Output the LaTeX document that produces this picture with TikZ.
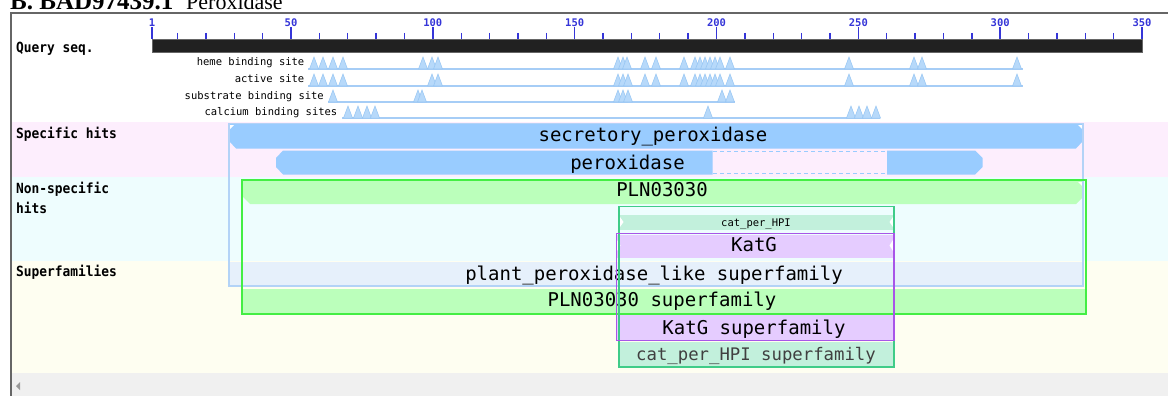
\documentclass[tikz,border=0pt]{standalone}
\usepackage{fontspec}
\newfontfamily\monofont{DejaVu Sans Mono}
\newfontfamily\labfont[FakeStretch=0.92]{DejaVu Sans Mono}
\newfontfamily\titlefont{Liberation Serif}
\definecolor{pinkband}{HTML}{FDEEFD}
\definecolor{cyanband}{HTML}{EEFDFE}
\definecolor{yelband}{HTML}{FEFEF1}
\definecolor{grayband}{HTML}{F0F0F0}
\definecolor{hitblue}{HTML}{99CCFF}
\definecolor{siteblue}{HTML}{B7D9FA}
\definecolor{siteedge}{HTML}{94C4F3}
\definecolor{siteline}{HTML}{A6CDF6}
\definecolor{boxblue}{HTML}{B3D3F7}
\definecolor{plantfill}{HTML}{E6F0FB}
\definecolor{plnfill}{HTML}{BBFFBB}
\definecolor{plnline}{HTML}{44EE44}
\definecolor{katfill}{HTML}{E5CCFF}
\definecolor{katline}{HTML}{A855E8}
\definecolor{catfill}{HTML}{C2F0DC}
\definecolor{catline}{HTML}{3FCC88}
\definecolor{tickblue}{HTML}{3535D8}
\definecolor{framegray}{HTML}{666666}
\tikzset{
  x=1pt, y=-1pt,
  bartext/.style={font=\monofont\fontsize{19}{19}\selectfont, anchor=base, inner sep=0pt},
  lab/.style={font=\labfont\bfseries\fontsize{14}{14}\selectfont, anchor=base west, inner sep=0pt},
  sitelab/.style={font=\monofont\fontsize{10.5}{10.5}\selectfont, anchor=base east, inner sep=0pt},
  num/.style={font=\monofont\bfseries\fontsize{10.5}{10.5}\selectfont, text=tickblue, inner sep=0pt},
  sitetri/.style={fill=siteblue, draw=siteedge, line width=0.5pt},
  siterow/.style={draw=siteline, line width=1.8pt},
  tickline/.style={draw=tickblue, line width=1.4pt},
  notch/.style={fill=white},
}
\begin{document}
\begin{tikzpicture}
\useasboundingbox (0,0) rectangle (1168,396);
\fill[white] (0,0) rectangle (1168,396);
% bands
\fill[pinkband] (12,122) rectangle (1168,177);
\fill[cyanband] (12,177) rectangle (1168,261);
\fill[yelband] (12,261) rectangle (1168,373);
\fill[grayband] (12,373) rectangle (1168,396);
% frame
\draw[framegray, line width=2pt] (11,396) -- (11,13) -- (1168,13);
% title (cut at top, as in the reference)
\node[anchor=base west, inner sep=0pt, font=\titlefont\bfseries\fontsize{25}{25}\selectfont] (title) at (10,10) {B. BAD97439.1};
\node[anchor=base west, inner sep=0pt, font=\titlefont\fontsize{22}{22}\selectfont] (title2) at (186,10) {Peroxidase};
% ruler
\fill[black!87] (152,39) rectangle (1142,52.5);
\draw[black!60, line width=0.6pt] (152,39) rectangle (1142,52.5);
\foreach \r in {10,20,...,340} {
  \draw[tickline] ({152+(\r-1)*2.8367},33) -- ({152+(\r-1)*2.8367},39);
}
\foreach \r in {1,50,100,...,350} {
  \draw[tickline] ({152+(\r-1)*2.8367},27.5) -- ({152+(\r-1)*2.8367},39);
  \node[num] (n\r) at ({152+(\r-1)*2.8367},22.5) {\r};
}
\node[lab] (qlab) at (16,53) {Query seq.};
% site rows
\draw[siterow] (308,69) -- (1023,69);
\draw[siterow] (308,86) -- (1023,86);
\draw[siterow] (328,102) -- (735,102);
\draw[siterow] (342,118) -- (880,118);
\node[sitelab] (heme) at (304.5,66) {heme binding site};
\node[sitelab] (act) at (304.5,83) {active site};
\node[sitelab] (sub) at (324,99.5) {substrate binding site};
\node[sitelab] (cal) at (337.5,115.5) {calcium binding sites};
\foreach \t in {314,323,333,343,423,432,438,618,623,627,645,656,684,695,700,705,710,715,720,730,849,914,922,1017} {
  \path[sitetri] (\t-4.5,69) -- (\t,57) -- (\t+4.5,69) -- cycle;
}
\foreach \t in {314,323,333,343,432,438,618,623,628,645,656,684,695,700,705,710,715,720,730,849,914,922,1017} {
  \path[sitetri] (\t-4.5,86) -- (\t,74) -- (\t+4.5,86) -- cycle;
}
\foreach \t in {333,418,422,618,623,628,722,730} {
  \path[sitetri] (\t-4.5,102) -- (\t,90) -- (\t+4.5,102) -- cycle;
}
\foreach \t in {348,358,367,375,708,851,859,867,876} {
  \path[sitetri] (\t-4.5,118) -- (\t,106) -- (\t+4.5,118) -- cycle;
}
% left labels
\node[lab] (shlab) at (16,138) {Specific hits};
\node[lab] (nslab1) at (16,193) {Non-specific};
\node[lab] (nslab2) at (16,213) {hits};
\node[lab] (sflab) at (16,276.5) {Superfamilies};
% specific hits
\fill[hitblue] (229,124) -- (1083,124) -- (1083,141) -- (1076,148.5) -- (236,148.5) -- (229,141) -- cycle;
\fill[notch] (230,125) -- (234,125) -- (230,129) -- cycle;
\fill[notch] (1082,125) -- (1078,125) -- (1082,129) -- cycle;
\node[bartext] (secr) at (653,141) {secretory\_peroxidase};
\fill[hitblue] (283,150.5) -- (712.5,150.5) -- (712.5,174.5) -- (283,174.5) -- (276,167) -- (276,158) -- cycle;
\fill[hitblue] (887,150.5) -- (975,150.5) -- (982.5,158) -- (982.5,167) -- (975,174.5) -- (887,174.5) -- cycle;
\draw[hitblue, line width=1.3pt, dash pattern=on 4pt off 3pt] (713,151.5) -- (887,151.5);
\draw[hitblue, line width=1.3pt, dash pattern=on 4pt off 3pt] (713,173.5) -- (887,173.5);
\node[bartext] (perox) at (627.5,169) {peroxidase};
% non-specific hits
\fill[plnfill] (243,180.5) -- (1083,180.5) -- (1083,197) -- (1076,204) -- (250,204) -- (243,197) -- cycle;
\fill[notch] (1082,182) -- (1078,182) -- (1082,186) -- cycle;
\node[bartext] (pln) at (662,196.3) {PLN03030};
\fill[catfill] (620,214.5) rectangle (893,230);
\fill[notch] (620,217) -- (623.5,222) -- (620,227) -- cycle;
\fill[notch] (893,217) -- (889.5,222) -- (893,227) -- cycle;
\node[anchor=base, inner sep=0pt, font=\monofont\fontsize{10.5}{10.5}\selectfont] (catb) at (756,226) {cat\_per\_HPI};
\fill[katfill] (617,234.5) rectangle (893,257.5);
\fill[notch] (617,240) -- (620.5,245.5) -- (617,251) -- cycle;
\fill[notch] (893,240) -- (889.5,245.5) -- (893,251) -- cycle;
\node[bartext] (katg) at (754,251) {KatG};
% superfamilies
\fill[plantfill] (229,261.5) rectangle (1083,286);
\node[bartext] (plant) at (654,280) {plant\_peroxidase\_like superfamily};
\fill[plnfill] (242,289) rectangle (1086,314);
\node[bartext] (plnsf) at (662,306) {PLN03030 superfamily};
\fill[katfill] (617,315) rectangle (894,340);
\node[bartext] (katsf) at (754,334) {KatG superfamily};
\fill[catfill] (619,342) rectangle (894,366.5);
\node[bartext, text=black!75, font=\monofont\fontsize{17.3}{17.3}\selectfont] (catsf) at (756,360.7) {cat\_per\_HPI superfamily};
% outline boxes
\draw[boxblue, line width=1.2pt] (229,123.5) rectangle (1083,286);
\draw[plnline, line width=2pt] (242,179.5) rectangle (1086,314);
\draw[catline, line width=1.5pt] (619,206.5) rectangle (894,367);
\draw[katline, line width=1.5pt] (616.5,233.5) rectangle (894,340.5);
% scroll arrow
\fill[black!40] (16,386) -- (20,382) -- (20,390) -- cycle;
\end{tikzpicture}
\end{document}
